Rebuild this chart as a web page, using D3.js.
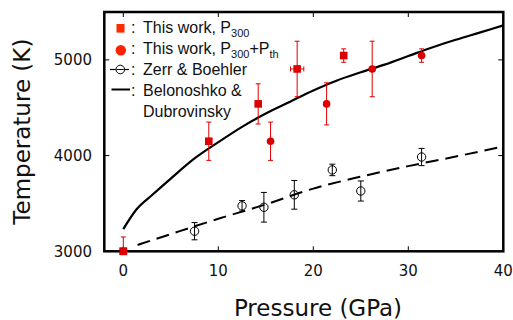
<!DOCTYPE html>
<html>
<head>
<meta charset="utf-8">
<script src="https://cdn.jsdelivr.net/npm/d3@7"></script>
<style>
  body { margin: 0; background: #fff; }
  svg { display: block; }
  .tick-label { font-family: "DejaVu Sans", sans-serif; font-size: 15px; fill: #111; }
  .axis-title { font-family: "DejaVu Sans", sans-serif; font-size: 23px; fill: #111; }
  .legend { font-family: "Liberation Sans", Arial, sans-serif; font-size: 16px; fill: #111; }
</style>
</head>
<body>
<svg id="chart" width="513" height="320"></svg>
<script>
// this work, P300 (squares)
var sqP = [0, 9.0, 14.2, 18.3, 23.2];
var sqT = [3000, 4150, 4540, 4905, 5045];
var sqErr = [150, 200, 210, 290, 70];
var sqPErr = [0, 0, 0, 0.7, 0];

// this work, P300 + Pth (circles)
var ciP = [15.5, 21.4, 26.2, 31.4];
var ciT = [4150, 4540, 4905, 5045];
var ciErr = [200, 220, 290, 70];

// Zerr & Boehler (open circles)
var zbP = [7.5, 12.5, 14.8, 18.0, 22.0, 25.0, 31.4];
var zbT = [3210, 3475, 3460, 3590, 3850, 3630, 3985];
var zbErr = [90, 55, 155, 150, 60, 105, 90];

// Zerr & Boehler fit (dashed)
var zbFitP = [1.5, 5, 10, 15, 20, 25, 30, 35, 40];
var zbFitT = [3066, 3180, 3340, 3490, 3655, 3780, 3890, 3990, 4095];

// Belonoshko & Dubrovinsky (solid)
var belP = [0, 1.4, 3, 5, 7.5, 10, 12.5, 15, 17.5, 20, 22.5, 25, 27.5, 30, 32.5, 35, 37.5, 40];
var belT = [3232, 3439, 3585, 3760, 3970, 4140, 4300, 4440, 4560, 4680, 4785, 4870, 4950, 5040, 5130, 5210, 5285, 5360];

var xTicks = [0, 10, 20, 30, 40];
var yTicks = [3000, 4000, 5000];

var red = "#dd0000";

var svg = d3.select("#chart");
var x = d3.scaleLinear().domain([-2, 40]).range([104.3, 503.3]);
var y = d3.scaleLinear().domain([3000, 5500]).range([251.3, 12]);

svg.append("defs").append("clipPath").attr("id", "plotclip")
    .append("rect")
    .attr("x", x(-2)).attr("y", y(5500))
    .attr("width", x(40) - x(-2)).attr("height", y(3000) - y(5500));

// ticks (inward)
var tickG = svg.append("g").attr("stroke", "#000").attr("stroke-width", 1);
xTicks.filter(function (d) { return d < 40; }).forEach(function (d) {
    tickG.append("line").attr("x1", x(d)).attr("x2", x(d)).attr("y1", y(3000)).attr("y2", y(3000) - 5);
    tickG.append("line").attr("x1", x(d)).attr("x2", x(d)).attr("y1", y(5500)).attr("y2", y(5500) + 5);
});
yTicks.filter(function (d) { return d > 3000; }).forEach(function (d) {
    tickG.append("line").attr("x1", x(-2)).attr("x2", x(-2) + 5).attr("y1", y(d)).attr("y2", y(d));
    tickG.append("line").attr("x1", x(40)).attr("x2", x(40) - 5).attr("y1", y(d)).attr("y2", y(d));
});

// tick labels
svg.selectAll(".xl").data(xTicks).enter().append("text")
    .attr("class", "tick-label")
    .attr("x", function (d) { return x(d); })
    .attr("y", 276)
    .attr("text-anchor", "middle")
    .text(function (d) { return d; });

svg.selectAll(".yl").data(yTicks).enter().append("text")
    .attr("class", "tick-label")
    .attr("x", 92)
    .attr("y", function (d) { return y(d) + 5.5; })
    .attr("text-anchor", "end")
    .text(function (d) { return d; });

// axis titles
svg.append("text").attr("class", "axis-title")
    .attr("x", 318).attr("y", 316)
    .attr("text-anchor", "middle")
    .text("Pressure (GPa)");

svg.append("text").attr("class", "axis-title")
    .attr("transform", "translate(29.5," + ((y(3000) + y(5500)) / 2) + ") rotate(-90)")
    .attr("text-anchor", "middle")
    .text("Temperature (K)");

var plot = svg.append("g").attr("clip-path", "url(#plotclip)");

// lines
var belData = belP.map(function (p, i) { return [p, belT[i]]; });
var zbFitData = zbFitP.map(function (p, i) { return [p, zbFitT[i]]; });
var line = d3.line()
    .x(function (d) { return x(d[0]); })
    .y(function (d) { return y(d[1]); })
    .curve(d3.curveMonotoneX);

plot.append("path").datum(belData)
    .attr("d", line)
    .attr("fill", "none").attr("stroke", "#000").attr("stroke-width", 2.2);

plot.append("path").datum(zbFitData)
    .attr("d", line)
    .attr("fill", "none").attr("stroke", "#000").attr("stroke-width", 2)
    .attr("stroke-dasharray", "13,7");

// error bars
function errBars(g, ps, ts, errs, color, cap) {
    ps.forEach(function (p, i) {
        var cx = x(p), y1 = y(ts[i] + errs[i]), y2 = y(ts[i] - errs[i]);
        g.append("line").attr("x1", cx).attr("x2", cx).attr("y1", y1).attr("y2", y2)
            .attr("stroke", color).attr("stroke-width", 1);
        [y1, y2].forEach(function (yy) {
            g.append("line").attr("x1", cx - cap).attr("x2", cx + cap).attr("y1", yy).attr("y2", yy)
                .attr("stroke", color).attr("stroke-width", 1);
        });
    });
}
errBars(plot, sqP, sqT, sqErr, red, 2.5);
errBars(plot, ciP, ciT, ciErr, red, 2.5);
errBars(plot, zbP, zbT, zbErr, "#000", 3);

// horizontal error bars
sqP.forEach(function (p, i) {
    if (!sqPErr[i]) return;
    var cy = y(sqT[i]), x1 = x(p - sqPErr[i]), x2 = x(p + sqPErr[i]);
    plot.append("line").attr("x1", x1).attr("x2", x2).attr("y1", cy).attr("y2", cy)
        .attr("stroke", red).attr("stroke-width", 1);
    [x1, x2].forEach(function (xx) {
        plot.append("line").attr("x1", xx).attr("x2", xx).attr("y1", cy - 2.5).attr("y2", cy + 2.5)
            .attr("stroke", red).attr("stroke-width", 1);
    });
});

// markers
svg.selectAll(".zb").data(zbP).enter().append("circle")
    .attr("cx", function (d) { return x(d); })
    .attr("cy", function (d, i) { return y(zbT[i]); })
    .attr("r", 4.2)
    .attr("fill", "none").attr("stroke", "#000").attr("stroke-width", 1);

svg.selectAll(".sq").data(sqP).enter().append("rect")
    .attr("x", function (d) { return x(d) - 3.8; })
    .attr("y", function (d, i) { return y(sqT[i]) - 3.8; })
    .attr("width", 7.6).attr("height", 7.6)
    .attr("fill", red);

svg.selectAll(".ci").data(ciP).enter().append("circle")
    .attr("cx", function (d) { return x(d); })
    .attr("cy", function (d, i) { return y(ciT[i]); })
    .attr("r", 3.8)
    .attr("fill", red);

// frame
svg.append("rect")
    .attr("x", x(-2)).attr("y", y(5500))
    .attr("width", x(40) - x(-2)).attr("height", y(3000) - y(5500))
    .attr("fill", "none").attr("stroke", "#000").attr("stroke-width", 2.5);

// red square at origin sits on top of the frame
svg.append("rect")
    .attr("x", x(sqP[0]) - 3.8).attr("y", y(sqT[0]) - 3.8)
    .attr("width", 7.6).attr("height", 7.6).attr("fill", red);

// legend
var lg = svg.append("g").attr("class", "legend");
var rows = [33, 54, 75, 95.5, 116.5];

lg.append("rect").attr("x", 116.5).attr("y", 24).attr("width", 8).attr("height", 8.6).attr("fill", "#ff2a00");
lg.append("circle").attr("cx", 120.8).attr("cy", 50.3).attr("r", 5.2).attr("fill", "#ff2200");
lg.append("line").attr("x1", 110).attr("x2", 129).attr("y1", 69.5).attr("y2", 69.5).attr("stroke", "#000").attr("stroke-width", 1.2);
lg.append("circle").attr("cx", 120.3).attr("cy", 69.5).attr("r", 4.3).attr("fill", "#fff").attr("stroke", "#000").attr("stroke-width", 1);
lg.append("line").attr("x1", 116.8).attr("x2", 123.8).attr("y1", 69.5).attr("y2", 69.5).attr("stroke", "#000").attr("stroke-width", 1);
lg.append("line").attr("x1", 111.5).attr("x2", 130).attr("y1", 89.5).attr("y2", 89.5).attr("stroke", "#000").attr("stroke-width", 2);

[0, 1, 2, 3].forEach(function (i) {
    lg.append("text").attr("class", "legend").attr("x", 131).attr("y", rows[i]).text(":");
});

var t1 = lg.append("text").attr("class", "legend").attr("x", 143).attr("y", rows[0]);
t1.append("tspan").text("This work, P");
t1.append("tspan").attr("dy", 3.5).style("font-size", "11px").text("300");

var t2 = lg.append("text").attr("class", "legend").attr("x", 143).attr("y", rows[1]);
t2.append("tspan").text("This work, P");
t2.append("tspan").attr("dy", 3.5).style("font-size", "11px").text("300");
t2.append("tspan").attr("dy", -3.5).text("+P");
t2.append("tspan").attr("dy", 3.5).style("font-size", "11px").text("th");

lg.append("text").attr("class", "legend").attr("x", 143).attr("y", rows[2]).text("Zerr & Boehler");
lg.append("text").attr("class", "legend").attr("x", 143).attr("y", rows[3]).text("Belonoshko &");
lg.append("text").attr("class", "legend").attr("x", 143).attr("y", rows[4]).text("Dubrovinsky");
</script>
</body>
</html>
